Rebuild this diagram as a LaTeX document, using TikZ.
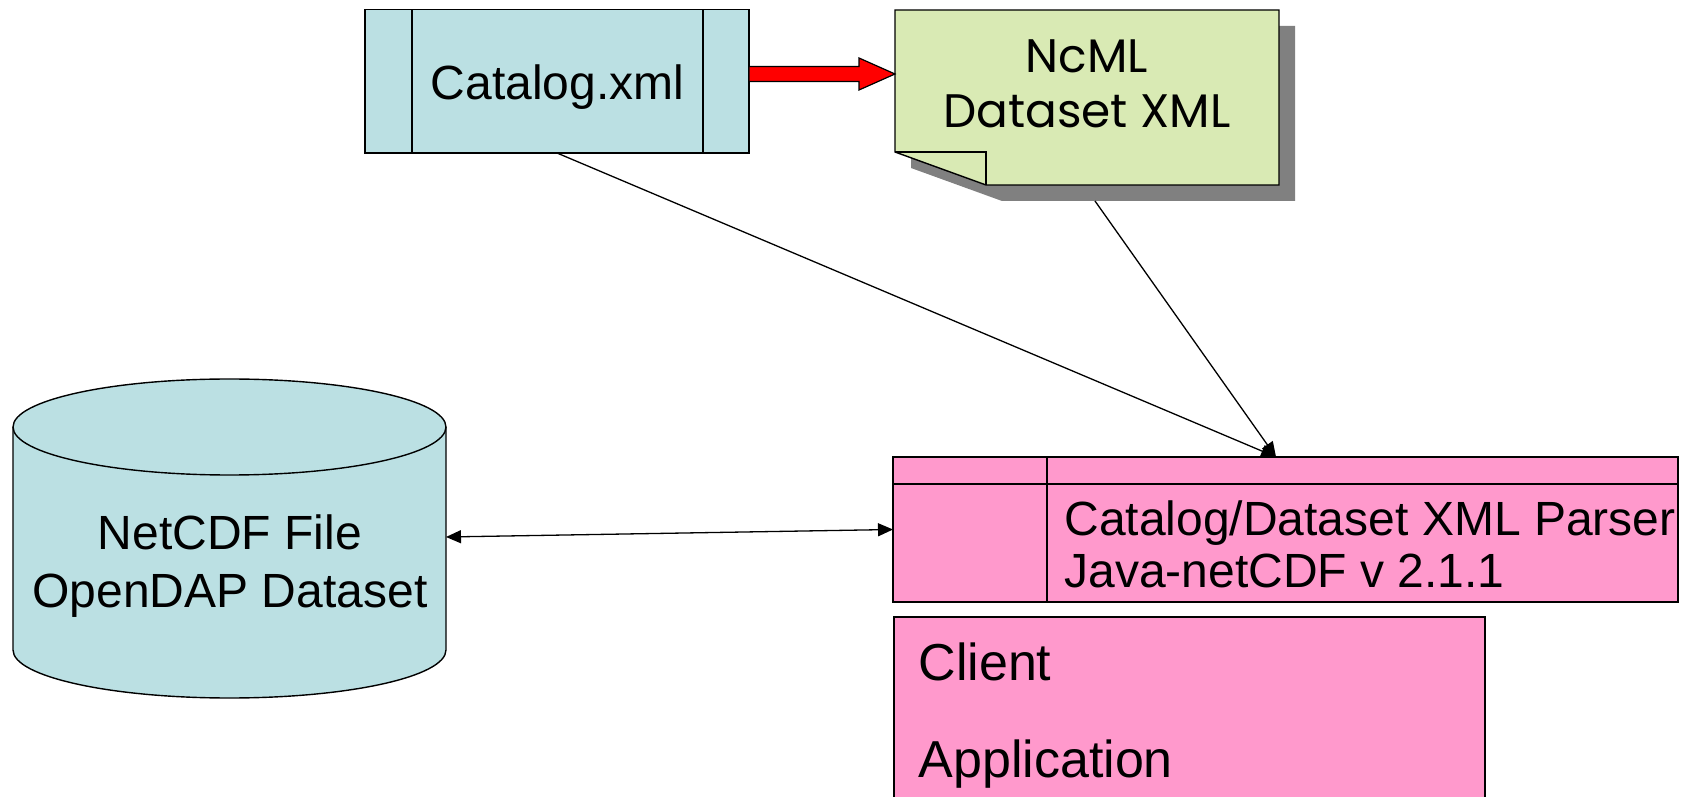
\documentclass[tikz,border=0pt]{standalone}
\usepackage{fontspec}
\setmainfont{Liberation Sans}
\newfontfamily\notefont{Poppins}
\usetikzlibrary{arrows.meta,calc}
\definecolor{catfill}{RGB}{187,224,227}
\definecolor{notefill}{RGB}{217,234,180}
\definecolor{pinkfill}{RGB}{255,153,204}
\definecolor{shadowgray}{RGB}{128,128,128}
\begin{document}
\begin{tikzpicture}[x=1pt,y=1pt,
  outl/.style={draw=black,line width=1.4pt},
  plain/.style={inner sep=0pt,outer sep=0pt},
  conn/.style={line width=1.3pt,-{Triangle[length=15pt,width=13pt]}},
  bigtext/.style={font=\fontsize{48}{57}\selectfont},
  notetext/.style={font=\notefont\fontsize{47}{55}\selectfont}]
\useasboundingbox (0,0) rectangle (1687,796);
\clip (0,0) rectangle (1687,796);

% Catalog.xml box
\node[plain,outl,fill=catfill,minimum width=384pt,minimum height=143.5pt] (cat) at (557,714.75) {};
\draw[line width=1.4pt] ([xshift=47pt]cat.north west) -- ([xshift=47pt]cat.south west);
\draw[line width=1.4pt] ([xshift=-46pt]cat.north east) -- ([xshift=-46pt]cat.south east);
\node[bigtext,anchor=base] (cattext) at (557.5,696) {Catalog.xml};

% NcML note with shadow
\node[plain,minimum width=384pt,minimum height=175pt] (note) at (1087,698.5) {};
\fill[shadowgray] ($(note.north west)+(16,-16)$) -- ($(note.north east)+(16,-16)$)
  -- ($(note.south east)+(16,-16)$) -- ($(note.south west)+(107,-16)$)
  -- ($(note.south west)+(16,17)$) -- cycle;
\draw[outl,fill=notefill] (note.north west) -- (note.north east) -- (note.south east)
  -- ($(note.south west)+(91,0)$) -- ($(note.south west)+(0,33)$) -- cycle;
\draw[line width=1.4pt] ($(note.south west)+(0,33)$) -- ($(note.south west)+(91,33)$) -- ($(note.south west)+(91,0)$);
\node[notetext,anchor=base] (ncml1) at (1087,723) {NcML};
\node[notetext,anchor=base] (ncml2) at (1087,668) {Dataset XML};

% red block arrow from catalog to note
\coordinate (ra) at ($(cat.east)+(0,7.25)$);
\coordinate (rt) at (note.west |- ra);
\draw[line width=1.2pt,fill=red] ($(ra)+(0,7.5)$) -- ($(rt)+(-36,7.5)$) -- ($(rt)+(-36,16)$)
  -- (rt) -- ($(rt)+(-36,-16)$) -- ($(rt)+(-36,-7.5)$) -- ($(ra)+(0,-7.5)$) -- cycle;

% cylinder
\node[plain,minimum width=433pt,minimum height=320pt] (cyl) at (229.5,259) {};
\draw[outl,fill=catfill] (13,369) -- (13,146) arc[start angle=180,end angle=360,x radius=216.5,y radius=48]
  -- (446,369) arc[start angle=0,end angle=180,x radius=216.5,y radius=48] -- cycle;
\draw[line width=1.4pt] (13,369) arc[start angle=180,end angle=360,x radius=216.5,y radius=48];
\node[bigtext,anchor=base] (cyl1) at (230,246) {NetCDF File};
\node[bigtext,anchor=base] (cyl2) at (230,189) {OpenDAP Dataset};

% parser box
\node[plain,outl,fill=pinkfill,minimum width=785pt,minimum height=145pt] (parser) at (1285.5,266.5) {};
\draw[line width=1.4pt] ([yshift=-27pt]parser.north west) -- ([yshift=-27pt]parser.north east);
\draw[line width=1.4pt] ([xshift=154pt]parser.north west) -- ([xshift=154pt]parser.south west);
\node[bigtext,anchor=base west] (p1) at (1061,260) {Catalog/Dataset XML Parser};
\node[bigtext,anchor=base west] (p2) at (1061,209) {Java-netCDF v 2.1.1};

% client box
\node[plain,outl,fill=pinkfill,minimum width=591pt,minimum height=220pt,anchor=north west] (client) at (894,179) {};
\node[font=\fontsize{52}{60}\selectfont,anchor=base west] (c1) at (915,116) {Client};
\node[font=\fontsize{52}{60}\selectfont,anchor=base west] (c2) at (915,19) {Application};

% connectors
\coordinate (pin) at ($(parser.north)+(-9.5,0)$);
\coordinate (ns) at ($(note.south)+(8,-16)$);
\draw[conn] (cat.south) -- (pin);
\draw[conn] (ns) -- (pin);
\draw[line width=1.3pt,{Triangle[length=15pt,width=13pt]}-{Triangle[length=15pt,width=13pt]}] (cyl.east) -- (parser.west);
\end{tikzpicture}
\end{document}
